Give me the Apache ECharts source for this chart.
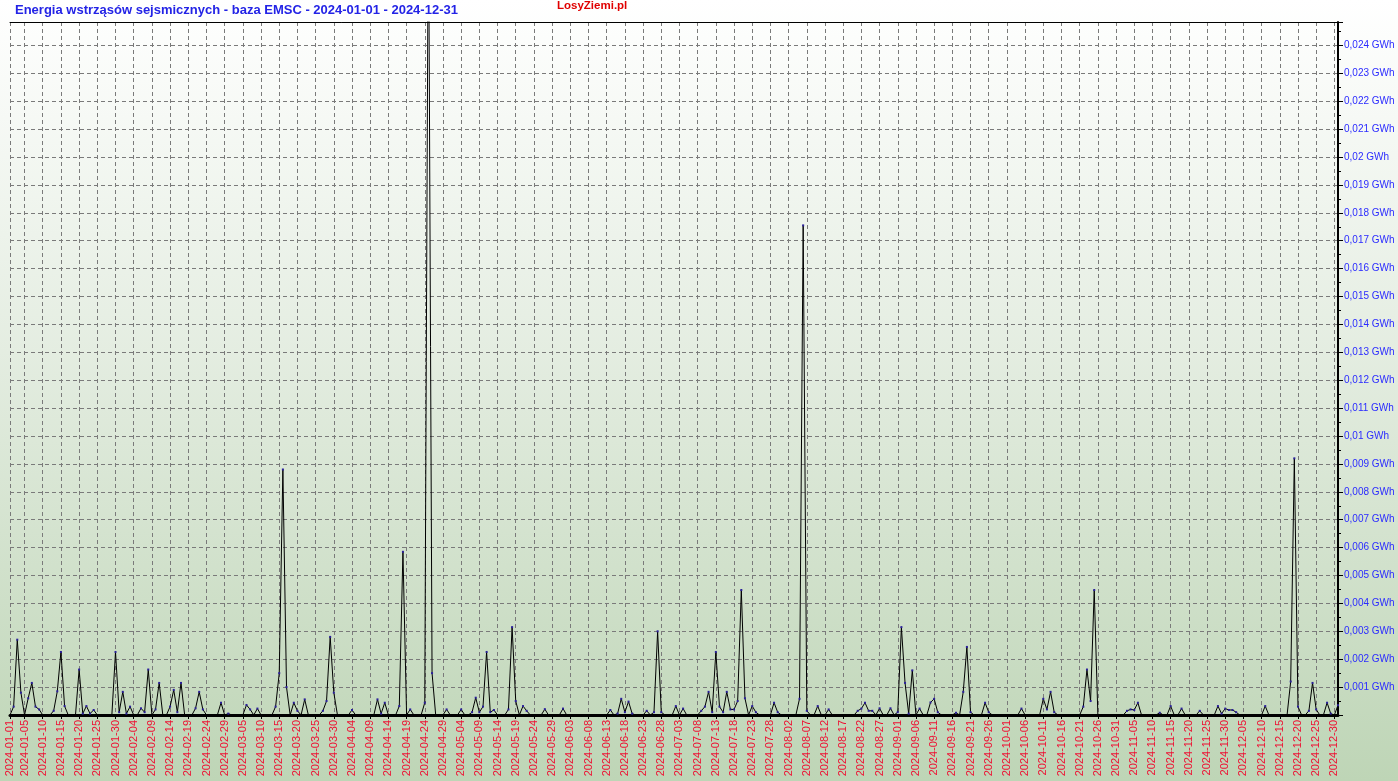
<!DOCTYPE html>
<html>
<head>
<meta charset="utf-8">
<script src="https://cdn.jsdelivr.net/npm/echarts@6/dist/echarts.min.js"></script>
<style>
html,body{margin:0;padding:0;}
body{width:1398px;height:781px;background:linear-gradient(to bottom,#ffffff 0%,#e4ede1 45%,#bed5b6 100%);}
#chart{width:1398px;height:781px;}
</style>
</head>
<body>
<div id="chart"></div>
<script>
// ---- data (GWh per day, days not listed are 0) ----
const titleText = 'Energia wstrząsów sejsmicznych - baza EMSC - 2024-01-01 - 2024-12-31';
const brandText = 'LosyZiemi.pl';
const year = 2024;
const eventDates = [
 '01-02','01-03','01-04','01-06','01-07','01-08','01-09','01-13','01-14','01-15','01-16','01-20','01-21','01-22','01-23','01-24','01-30','01-31',
 '02-01','02-02','02-03','02-06','02-07','02-08','02-10','02-11','02-14','02-15','02-16','02-17','02-21','02-22','02-23','02-28',
 '03-01','03-06','03-07','03-09','03-14','03-15','03-16','03-17','03-19','03-20','03-22','03-27','03-28','03-29','03-30',
 '04-04','04-11','04-12','04-13','04-17','04-18','04-20','04-24','04-25','04-26','04-30',
 '05-04','05-07','05-08','05-09','05-10','05-11','05-12','05-13','05-17','05-18','05-19','05-21','05-22','05-27',
 '06-01','06-14','06-16','06-17','06-18','06-19','06-20','06-24','06-26','06-27','06-28',
 '07-02','07-04','07-09','07-10','07-11','07-12','07-13','07-14','07-15','07-16','07-17','07-18','07-19','07-20','07-21','07-23','07-24','07-29','07-30',
 '08-05','08-06','08-07','08-10','08-13','08-21','08-22','08-23','08-24','08-25','08-27','08-30',
 '09-01','09-02','09-03','09-04','09-05','09-07','09-10','09-11','09-12','09-17','09-19','09-20','09-21','09-25','09-26',
 '10-05','10-11','10-12','10-13','10-14','10-22','10-23','10-24','10-25',
 '11-03','11-04','11-05','11-06','11-12','11-15','11-18','11-23','11-28','11-29','11-30',
 '12-01','12-02','12-03','12-11','12-18','12-19','12-20','12-23','12-24','12-25','12-28','12-29','12-31'
];
const eventValues = [
 0.00030,0.00270,0.00080,0.00060,0.00115,0.00030,0.00020,0.00015,0.00085,0.00226,0.00032,0.00163,0.00005,0.00032,0.00005,0.00018,0.00226,0.00010,
 0.00083,0.00005,0.00030,0.00024,0.00010,0.00163,0.00020,0.00115,0.00030,0.00090,0.00010,0.00115,0.00024,0.00083,0.00020,0.00044,
 0.00005,0.00036,0.00020,0.00023,0.00030,0.00150,0.00880,0.00100,0.00044,0.00015,0.00056,0.00015,0.00050,0.00280,0.00080,
 0.00018,0.00056,0.00005,0.00044,0.00032,0.00585,0.00020,0.00044,0.03000,0.00150,0.00020,
 0.00020,0.00010,0.00062,0.00010,0.00030,0.00226,0.00010,0.00018,0.00020,0.00315,0.00050,0.00032,0.00015,0.00021,
 0.00023,0.00018,0.00005,0.00058,0.00010,0.00048,0.00005,0.00015,0.00010,0.00300,0.00010,
 0.00032,0.00023,0.00015,0.00030,0.00083,0.00010,0.00226,0.00030,0.00010,0.00083,0.00020,0.00020,0.00050,0.00448,0.00060,0.00032,0.00010,0.00044,0.00010,
 0.00058,0.01755,0.00015,0.00032,0.00020,0.00015,0.00023,0.00044,0.00015,0.00015,0.00024,0.00024,
 0.00010,0.00315,0.00115,0.00005,0.00160,0.00023,0.00045,0.00058,0.00010,0.00008,0.00083,0.00244,0.00010,0.00044,0.00010,
 0.00023,0.00058,0.00020,0.00083,0.00010,0.00030,0.00163,0.00050,0.00448,
 0.00015,0.00020,0.00018,0.00044,0.00008,0.00032,0.00023,0.00015,0.00032,0.00005,0.00023,
 0.00018,0.00018,0.00010,0.00032,0.00120,0.00920,0.00030,0.00015,0.00115,0.00020,0.00044,0.00005,0.00035
];
const yMin = 0, yMax = 0.02484, yStep = 0.001;

// ---- build categories and daily series ----
const categories = [];
const pad = n => (n < 10 ? '0' : '') + n;
for (let d = new Date(Date.UTC(year,0,1)); d.getUTCFullYear() === year; d.setUTCDate(d.getUTCDate()+1)) {
  categories.push(year + '-' + pad(d.getUTCMonth()+1) + '-' + pad(d.getUTCDate()));
}
const lookup = {};
eventDates.forEach((md, i) => { lookup[year + '-' + md] = eventValues[i]; });
const seriesData = categories.map(c => (c in lookup ? lookup[c] : 0));

const showIdx = idx => idx === 0 || (idx >= 4 && (idx - 4) % 5 === 0);
const gridLine = { color: '#7a7a7a', width: 1, type: [4, 3] };
const FONT = 'Liberation Sans, Arial, sans-serif';

const chart = echarts.init(document.getElementById('chart'), null, { renderer: 'canvas' });
chart.setOption({
  backgroundColor: 'transparent',
  animation: false,
  title: [
    { text: titleText, left: 15, top: 4, padding: 0, textStyle: { color: '#2323e6', fontSize: 13, fontWeight: 'bold', fontFamily: FONT } },
    { text: brandText, left: 557, top: 0, padding: 0, textStyle: { color: '#e00000', fontSize: 11.5, fontWeight: 'bold', fontFamily: FONT } }
  ],
  grid: { left: 10, right: 60, top: 22, bottom: 66, containLabel: false },
  xAxis: [
    {
      type: 'category', data: categories, boundaryGap: false, position: 'bottom',
      axisLine: { show: true, onZero: false, lineStyle: { color: '#000', width: 3 } },
      axisTick: { show: true, interval: showIdx, length: 4, lineStyle: { color: '#000' } },
      axisLabel: { interval: showIdx, rotate: 90, color: '#ee1133', fontSize: 11, margin: 5, fontFamily: FONT },
      splitLine: { show: true, interval: showIdx, lineStyle: gridLine }
    },
    {
      type: 'category', data: categories, boundaryGap: false, position: 'top',
      axisLine: { show: true, onZero: false, lineStyle: { color: '#000', width: 1 } },
      axisTick: { show: false }, axisLabel: { show: false }, splitLine: { show: false }
    }
  ],
  yAxis: {
    type: 'value', position: 'right', min: yMin, max: yMax, interval: yStep,
    axisLine: { show: true, lineStyle: { color: '#000', width: 2 } },
    axisTick: { show: true, length: 5, lineStyle: { color: '#000' } },
    minorTick: { show: true, splitNumber: 2, length: 3, lineStyle: { color: '#000' } },
    axisLabel: {
      color: '#2b2bff', fontSize: 10, margin: 6, fontFamily: FONT,
      formatter: v => {
        const k = Math.round(v * 1000);
        if (k === 0 || Math.abs(v * 1000 - k) > 1e-6) return '';
        return String(k / 1000).replace('.', ',') + ' GWh';
      }
    },
    splitLine: { show: true, lineStyle: gridLine }
  },
  series: [{
    type: 'line', data: seriesData, xAxisIndex: 0,
    lineStyle: { color: '#000', width: 1 },
    itemStyle: { color: '#2a1f9a' },
    symbol: 'rect', showSymbol: true, showAllSymbol: true,
    symbolSize: v => (v > 0 ? 2 : 0),
    clip: true
  }]
});
</script>
</body>
</html>
